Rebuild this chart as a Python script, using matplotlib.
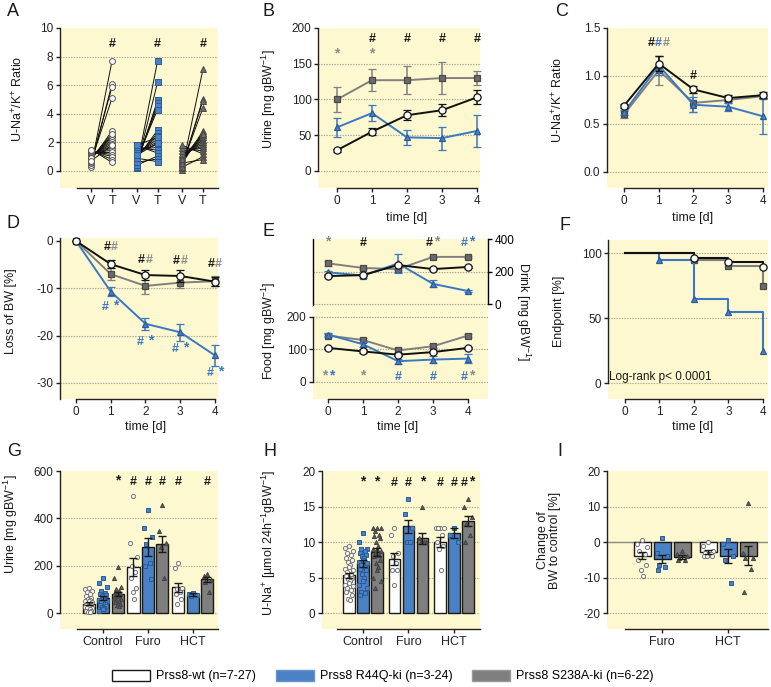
import numpy as np
import matplotlib
matplotlib.use('Agg')
import matplotlib.pyplot as plt
from matplotlib.patches import Patch

plt.rcParams['font.family'] = ['Liberation Sans', 'DejaVu Sans']
plt.rcParams['mathtext.fontset'] = 'custom'
plt.rcParams['mathtext.rm'] = 'Liberation Sans'
plt.rcParams['mathtext.it'] = 'Liberation Sans'
plt.rcParams['mathtext.default'] = 'regular'
plt.rcParams['axes.unicode_minus'] = False

# ---------------- DATA ----------------
days = [0, 1, 2, 3, 4]
a_labels = ['V', 'T', 'V', 'T', 'V', 'T']
a_wt_v = [0.30, 0.40, 0.55, 0.65, 0.75, 0.85, 0.95, 1.00, 1.05, 1.10, 1.15, 1.20, 1.25, 1.30, 1.35, 1.40, 1.45, 1.50, 0.90, 0.70]
a_wt_t = [7.70, 6.10, 5.90, 5.10, 2.80, 2.50, 2.35, 2.20, 2.05, 1.90, 1.75, 1.60, 1.45, 1.30, 1.15, 1.00, 0.80, 0.60, 2.60, 1.80]
a_r44q_v = [0.20, 0.30, 0.45, 0.55, 0.65, 0.75, 0.85, 0.95, 1.05, 1.15, 1.25, 1.35, 1.50, 1.65, 1.80, 0.40, 0.60, 0.90, 1.10, 1.80]
a_r44q_t = [7.70, 6.20, 4.95, 4.75, 4.55, 4.30, 2.85, 2.65, 2.45, 2.25, 2.05, 1.85, 1.65, 1.45, 1.25, 1.05, 0.85, 0.65, 1.95, 2.35]
a_s238a_v = [0.10, 0.20, 0.30, 0.40, 0.50, 0.60, 0.70, 0.80, 0.90, 1.00, 1.10, 1.20, 1.40, 1.60, 1.80, 0.25, 0.55, 0.85]
a_s238a_t = [7.10, 5.05, 4.90, 4.40, 2.80, 2.65, 2.50, 2.35, 2.20, 2.05, 1.90, 1.75, 1.60, 1.40, 1.20, 1.00, 0.80, 2.60]

b_wt = [29, 55, 78, 85, 103]
b_wt_err = [2, 5, 7, 8, 10]
b_r44q = [61, 81, 47, 46, 56]
b_r44q_err = [13, 11, 10, 16, 22]
b_s238a = [100, 127, 127, 130, 130]
b_s238a_err = [18, 15, 20, 22, 10]

c_wt = [0.69, 1.13, 0.86, 0.77, 0.80]
c_wt_err = [0.02, 0.08, 0.04, 0.03, 0.03]
c_r44q = [0.62, 1.11, 0.70, 0.68, 0.58]
c_r44q_err = [0.03, 0.10, 0.08, 0.04, 0.18]
c_s238a = [0.60, 1.06, 0.72, 0.75, 0.79]
c_s238a_err = [0.04, 0.15, 0.10, 0.03, 0.02]

d_wt = [0, -4.9, -7.2, -7.4, -8.6]
d_wt_err = [0, 0.8, 1.0, 1.2, 1.0]
d_r44q = [0, -10.7, -17.5, -19.3, -24.2]
d_r44q_err = [0, 1.0, 1.3, 1.8, 2.2]
d_s238a = [0, -7.0, -9.5, -8.8, -8.5]
d_s238a_err = [0, 1.2, 1.8, 1.2, 1.0]

e_drink_wt = [172, 178, 240, 215, 228]
e_drink_wt_err = [6, 6, 8, 6, 6]
e_drink_r44q = [195, 175, 250, 124, 80]
e_drink_r44q_err = [8, 12, 60, 22, 5]
e_drink_s238a = [250, 222, 215, 290, 290]
e_drink_s238a_err = [15, 8, 8, 8, 8]
e_food_wt = [105, 94, 84, 92, 105]
e_food_wt_err = [4, 4, 4, 4, 4]
e_food_r44q = [146, 116, 64, 69, 72]
e_food_r44q_err = [6, 8, 8, 12, 15]
e_food_s238a = [143, 129, 97, 110, 143]
e_food_s238a_err = [6, 6, 8, 6, 6]

f_wt = [100, 100, 96, 93, 89]
f_r44q = [100, 95, 65, 55, 25]
f_s238a = [100, 100, 95, 90, 75]

groups_g = ['Control', 'Furo', 'HCT']
g_mean_wt = [40, 195, 108]
g_mean_r44q = [62, 280, 78]
g_mean_s238a = [80, 292, 142]
g_sem_wt = [5, 38, 20]
g_sem_r44q = [8, 38, 6]
g_sem_s238a = [8, 35, 12]
g_pts_wt = [[105, 100, 95, 90, 80, 70, 65, 60, 55, 50, 50, 45, 40, 40, 35, 35, 30, 30, 25, 25, 20, 20, 15, 10, 10, 5, 5],
            [495, 295, 235, 200, 175, 150, 105, 90, 60],
            [210, 190, 105, 100, 90, 80, 60, 40]]
g_pts_r44q = [[150, 125, 110, 95, 85, 80, 75, 70, 65, 60, 55, 50, 45, 40, 35, 30, 25, 20, 15, 10],
              [435, 360, 320, 290, 210, 200, 145],
              [85, 80, 75, 70]]
g_pts_s238a = [[195, 150, 110, 100, 95, 90, 85, 80, 75, 70, 65, 60, 55, 50, 45, 40, 35, 30],
               [455, 345, 295, 280, 150],
               [165, 155, 140, 130, 90]]

h_mean_wt = [5.3, 7.6, 10.0]
h_mean_r44q = [7.0, 12.2, 11.3]
h_mean_s238a = [8.6, 10.5, 13.0]
h_sem_wt = [0.4, 0.8, 0.7]
h_sem_r44q = [0.5, 0.9, 0.7]
h_sem_s238a = [0.5, 0.8, 0.7]
h_pts_wt = [[9.5, 9.2, 8.8, 8.5, 8.2, 7.8, 7.5, 7.2, 6.8, 6.5, 6.2, 6.0, 5.8, 5.5, 5.2, 5.0, 4.8, 4.5, 4.2, 4.0, 3.8, 3.5, 3.2, 3.0, 2.5, 2.0, 1.8],
            [12, 11, 8.5, 8, 7, 6, 6, 4],
            [12, 12, 12, 12, 11, 10, 9.5, 9, 6]]
h_pts_r44q = [[11.2, 10.0, 9.0, 9.0, 8.8, 8.5, 8.2, 8.0, 7.8, 7.5, 7.2, 7.0, 6.8, 6.5, 6.2, 6.0, 5.5, 5.0, 4.5, 4.0, 3.5, 3.0, 2.8, 2.5],
              [16, 14, 12, 10, 10],
              [12, 11, 10]]
h_pts_s238a = [[12.0, 12.0, 12.0, 11.5, 11.0, 10.8, 10.5, 10.0, 9.5, 9.0, 9.0, 8.8, 8.5, 8.2, 8.0, 7.5, 7.0, 6.5, 6.0, 5.0, 4.5, 3.5],
               [15, 10.5, 10, 10, 10],
               [16, 15, 13.5, 12.5, 11, 10]]

groups_i = ['Furo', 'HCT']
i_mean_wt = [-3.8, -2.8]
i_mean_r44q = [-4.8, -4.0]
i_mean_s238a = [-4.2, -3.8]
i_sem_wt = [1.0, 0.5]
i_sem_r44q = [1.2, 2.0]
i_sem_s238a = [0.5, 2.8]
i_pts_wt = [[0.5, -0.5, -1.5, -2.5, -3.5, -5.0, -6.5, -8.0, -9.5],
            [0.0, -1.0, -2.5, -3.0, -3.5, -3.8, -4.0, -4.0]]
i_pts_r44q = [[1.0, -3.0, -4.0, -6.5, -7.0, -8.0],
              [0.5, -0.5, -4.0, -5.0, -11.5]]
i_pts_s238a = [[-2.5, -3.5, -4.0, -4.5, -5.0, -5.0],
               [11.0, -3.0, -4.5, -4.5, -7.5, -14.0]]

legend_labels = ['Prss8-wt (n=7-27)', 'Prss8 R44Q-ki (n=3-24)', 'Prss8 S238A-ki (n=6-22)']

# ---------------- STYLE ----------------
W, H = 771, 687
fig = plt.figure(figsize=(W / 100, H / 100), dpi=100)
YEL = '#fdf8d0'
BLUE = '#3a78c4'
BLUEF = '#4a80c4'
BLUEE = '#2a5c9c'
GRAYL = '#808080'
GRAYF = '#6b6b6b'
GRAYE = '#4a4a4a'
GRIDC = '#aaa898'
TXT = '#1a1a1a'
COL = {'k': '#1a1a1a', 'b': BLUE, 'g': '#8c8c8c'}
FS_TICK = 8.5
FS_LAB = 9
FS_LET = 13


def px_axes(l, t, r, b):
    return fig.add_axes([l / W, 1 - b / H, (r - l) / W, (b - t) / H])


def style(ax, xlim, ylim, yticks, ybounds, xbounds, grid):
    ax.set_facecolor(YEL)
    ax.spines['top'].set_visible(False)
    ax.spines['right'].set_visible(False)
    for s in ['left', 'bottom']:
        ax.spines[s].set_linewidth(1.0)
        ax.spines[s].set_color('#222222')
    ax.set_xlim(xlim)
    ax.set_ylim(ylim)
    ax.set_yticks(yticks)
    ax.spines['left'].set_bounds(*ybounds)
    ax.spines['bottom'].set_bounds(*xbounds)
    for g in grid:
        ax.axhline(g, color=GRIDC, lw=0.8, ls=(0, (1.2, 1.2)), zorder=0.5)
    ax.tick_params(length=3.2, width=1.0, labelsize=FS_TICK, pad=1.5, colors='#222222')


def fx(x):
    return x / W


def fy(y):
    return 1 - y / H


def ylab(x, y, s, rot=90):
    fig.text(fx(x), fy(y), s, rotation=rot, ha='center', va='center', fontsize=FS_LAB, color=TXT)


def xlab(x, y, s):
    fig.text(fx(x), fy(y), s, ha='center', va='center', fontsize=FS_LAB, color=TXT)


def letter(x, y, s):
    fig.text(fx(x), fy(y), s, ha='center', va='center', fontsize=FS_LET, color=TXT)


def mark(ax, x, y, s, cols, dx=5.4, fs=9):
    n = len(s)
    for i, (c, cc) in enumerate(zip(s, cols)):
        off = (i - (n - 1) / 2) * dx
        yo = 1.1 if c == '*' else 0
        ax.annotate(c, xy=(x, y), xytext=(off, yo), textcoords='offset points', ha='center', va='center',
                    color=COL[cc], fontsize=(fs + 1 if c == '*' else fs), fontweight='bold',
                    annotation_clip=False, zorder=6)


SER = {
    'wt': dict(color='#111111', marker='o', mfc='white', mec='#111111', ms=5.2),
    'r44q': dict(color=BLUE, marker='^', mfc=BLUEF, mec=BLUEE, ms=5.0),
    's238a': dict(color=GRAYL, marker='s', mfc=GRAYF, mec=GRAYE, ms=4.8),
}


def series(ax, x, y, e, key, z):
    st = SER[key]
    ax.errorbar(x, y, yerr=e, color=st['color'], ecolor=st['color'], marker=st['marker'], mfc=st['mfc'],
                mec=st['mec'], ms=st['ms'], mew=0.9, lw=1.4, elinewidth=1.1, capsize=2.6, capthick=1.1,
                clip_on=False, zorder=z)


# ---------------- A ----------------
ax = px_axes(60, 28, 218, 188)
a_x = [0, 1, 2.17, 3.17, 4.33, 5.33]
style(ax, (-1.48, 6.05), (-1.19, 10), [0, 2, 4, 6, 8, 10], (0, 10), (-0.67, 6.05), [0, 2, 4, 6, 8])
ax.set_xticks(a_x)
ax.set_xticklabels(a_labels)
ax.tick_params(axis='x', labelsize=FS_LAB)
a_sets = [(a_x[0:2], a_wt_v, a_wt_t, 'o', 'white', '#555555'),
          (a_x[2:4], a_r44q_v, a_r44q_t, 's', BLUEF, BLUEE),
          (a_x[4:6], a_s238a_v, a_s238a_t, '^', GRAYF, GRAYE)]
for xs, vv, tt, mk, fc, ec in a_sets:
    for v, t in zip(vv, tt):
        ax.plot(xs, [v, t], color='#111111', lw=0.7, zorder=2)
    ax.plot([xs[0]] * len(vv), vv, ls='none', marker=mk, ms=4.2, mfc=fc, mec=ec, mew=0.7, zorder=3, clip_on=False)
    ax.plot([xs[1]] * len(tt), tt, ls='none', marker=mk, ms=4.2, mfc=fc, mec=ec, mew=0.7, zorder=3, clip_on=False)
    mark(ax, xs[1], 8.9, '#', 'k')
letter(13, 11, 'A')
ylab(18, 99, r'U-Na$^{+}$/K$^{+}$ Ratio')

# ---------------- B ----------------
ax = px_axes(318, 28, 480, 188)
style(ax, (-0.543, 4.086), (-23.8, 200), [0, 50, 100, 150, 200], (0, 200), (0, 4), [0, 50, 100, 150])
ax.set_xticks(days)
series(ax, days, b_s238a, b_s238a_err, 's238a', 3)
series(ax, days, b_r44q, b_r44q_err, 'r44q', 4)
series(ax, days, b_wt, b_wt_err, 'wt', 5)
for d in [0, 1]:
    mark(ax, d, 162, '*', 'g')
for d in [1, 2, 3, 4]:
    mark(ax, d, 185, '#', 'k')
letter(268, 11, 'B')
ylab(269, 99, r'Urine [mg gBW$^{-1}$]')
xlab(407, 218, 'time [d]')

# ---------------- C ----------------
ax = px_axes(607, 28, 768, 188)
style(ax, (-0.489, 4.144), (-0.167, 1.5), [0.0, 0.5, 1.0, 1.5], (0, 1.5), (0, 4), [0, 0.5, 1.0])
ax.set_yticklabels(['0.0', '0.5', '1.0', '1.5'])
ax.set_xticks(days)
series(ax, days, c_s238a, c_s238a_err, 's238a', 3)
series(ax, days, c_r44q, c_r44q_err, 'r44q', 4)
series(ax, days, c_wt, c_wt_err, 'wt', 5)
mark(ax, 1, 1.34, '###', 'kbg')
mark(ax, 2, 1.0, '#', 'k')
letter(562, 11, 'C')
ylab(558, 100, r'U-Na$^{+}$/K$^{+}$ Ratio')
xlab(693, 218, 'time [d]')

# ---------------- D ----------------
ax = px_axes(60, 238, 218, 399)
style(ax, (-0.46, 4.086), (-33.4, 0.63), [-30, -20, -10, 0], (-33.4, 0.63), (0, 4), [-10, -20, -30])
ax.set_xticks(days)
series(ax, days, d_s238a, d_s238a_err, 's238a', 3)
series(ax, days, d_r44q, d_r44q_err, 'r44q', 4)
series(ax, days, d_wt, d_wt_err, 'wt', 5)
for d, yv in zip([1, 2, 3, 4], [-1.2, -4.0, -4.2, -4.9]):
    mark(ax, d, yv, '##', 'kg')
for d, yv in zip([1, 2, 3, 4], [-14.0, -21.3, -22.8, -28.0]):
    mark(ax, d, yv, '#*', 'bb', dx=7.5)
letter(13, 224, 'D')
ylab(11, 311, 'Loss of BW [%]')
xlab(146, 427, 'time [d]')

# ---------------- E (top: drink) ----------------
ax = px_axes(313, 239, 488, 306)
ax.set_facecolor(YEL)
ax.set_xlim(-0.43, 4.57)
ax.set_ylim(-12, 400)
ax.spines['top'].set_visible(False)
ax.spines['bottom'].set_visible(False)
ax.spines['left'].set_linewidth(1.0)
ax.spines['right'].set_linewidth(1.0)
ax.spines['right'].set_bounds(0, 400)
ax.yaxis.tick_right()
ax.set_yticks([0, 200, 400])
ax.set_xticks([])
ax.tick_params(length=3.2, width=1.0, labelsize=FS_TICK, pad=1.5)
for g in [0, 200]:
    ax.axhline(g, color=GRIDC, lw=0.8, ls=(0, (1.2, 1.2)), zorder=0.5)
series(ax, days, e_drink_s238a, e_drink_s238a_err, 's238a', 3)
series(ax, days, e_drink_r44q, e_drink_r44q_err, 'r44q', 4)
series(ax, days, e_drink_wt, e_drink_wt_err, 'wt', 5)
mark(ax, 0, 375, '*', 'g')
mark(ax, 1, 375, '#', 'k')
mark(ax, 3, 375, '#*', 'kg')
mark(ax, 4, 375, '#*', 'bb')

# ---------------- E (bottom: food) ----------------
ax = px_axes(313, 306, 488, 399)
style(ax, (-0.43, 4.57), (-52.3, 233.8), [0, 100, 200], (0, 200), (0, 4), [0, 100, 200])
ax.set_xticks(days)
series(ax, days, e_food_s238a, e_food_s238a_err, 's238a', 3)
series(ax, days, e_food_r44q, e_food_r44q_err, 'r44q', 4)
series(ax, days, e_food_wt, e_food_wt_err, 'wt', 5)
mark(ax, 0, 16, '**', 'gb')
mark(ax, 1, 16, '*', 'g')
mark(ax, 2, 16, '#', 'b')
mark(ax, 3, 16, '#', 'b')
mark(ax, 4, 16, '#*', 'bg')
letter(269, 231, 'E')
ylab(269, 331, r'Food [mg gBW$^{-1}$]')
ylab(523, 312, r'Drink [mg gBW$^{-1}$]', rot=270)
xlab(398, 427, 'time [d]')

# ---------------- F ----------------
ax = px_axes(608, 240, 768, 399)
style(ax, (-0.489, 4.144), (-12.3, 110), [0, 50, 100], (0, 110), (0, 4), [0, 50, 100])
ax.set_xticks(days)
for vals, key, z in [(f_s238a, 's238a', 3), (f_r44q, 'r44q', 4), (f_wt, 'wt', 5)]:
    st = SER[key]
    ax.step(days, vals, where='post', color=st['color'], lw=1.5, zorder=z, clip_on=False)
    mx = [d for i, d in enumerate(days) if i > 0 and vals[i] != vals[i - 1]]
    my = [vals[i] for i in range(len(days)) if i > 0 and vals[i] != vals[i - 1]]
    ax.plot(mx, my, ls='none', marker=st['marker'], mfc=st['mfc'], mec=st['mec'], ms=st['ms'], mew=0.9,
            zorder=z, clip_on=False)
ax.text(-0.45, 4.6, 'Log-rank p< 0.0001', fontsize=FS_TICK, ha='left', va='center', color=TXT)
letter(565, 226, 'F')
ylab(559, 311, 'Endpoint [%]')
xlab(693, 427, 'time [d]')


# ---------------- bar helpers ----------------
def spread(n, w):
    pattern = [0, -1, 1, -0.5, 0.5, -0.75, 0.75, -0.25, 0.25]
    return np.array([pattern[i % len(pattern)] for i in range(n)]) * w


BAR = [dict(fc='white', pm='o', pfc='white', pec='#777777'),
       dict(fc=BLUEF, pm='s', pfc=BLUEF, pec=BLUEE),
       dict(fc='#7f7f7f', pm='^', pfc='#5a5a5a', pec='#444444')]


def bars(ax, centers, offs, width, means, sems, pts, ms):
    for si in range(3):
        for gi, c in enumerate(centers):
            x = c + offs[si]
            m = means[si][gi]
            ax.bar(x, m, width, color=BAR[si]['fc'], edgecolor='#1a1a1a', lw=1.0, zorder=2)
            vals = sorted(pts[si][gi], reverse=True)
            ax.plot(x + spread(len(vals), width * 0.32), vals, ls='none', marker=BAR[si]['pm'], ms=ms,
                    mfc=BAR[si]['pfc'], mec=BAR[si]['pec'], mew=0.7, zorder=3, clip_on=False)
            ax.errorbar(x, m, yerr=sems[si][gi], color='#1a1a1a', lw=1.0, capsize=2.6, capthick=1.0,
                        zorder=4)


# ---------------- G ----------------
ax = px_axes(60, 471, 218, 629)
g_c = [0, 3.1, 6.2]
style(ax, (-2.97, 7.93), (-67.6, 600), [0, 200, 400, 600], (0, 600), (-1.8, 7.93), [0, 200, 400])
ax.set_xticks(g_c)
ax.set_xticklabels(groups_g)
ax.tick_params(axis='x', labelsize=FS_LAB)
bars(ax, g_c, [-1, 0, 1], 0.83, [g_mean_wt, g_mean_r44q, g_mean_s238a], [g_sem_wt, g_sem_r44q, g_sem_s238a],
     [g_pts_wt, g_pts_r44q, g_pts_s238a], 3.0)
mark(ax, g_c[0] + 1, 553, '*', 'k')
for x in [g_c[1] - 1, g_c[1], g_c[1] + 1, g_c[2] - 1, g_c[2] + 1]:
    mark(ax, x, 553, '#', 'k')
letter(14, 451, 'G')
ylab(11, 524, r'Urine [mg gBW$^{-1}$]')

# ---------------- H ----------------
ax = px_axes(322, 471, 480, 629)
h_c = [0, 3.25, 6.5]
style(ax, (-2.93, 8.36), (-2.25, 20), [0, 5, 10, 15, 20], (0, 20), (-1.86, 8.36), [0, 5, 10, 15])
ax.set_xticks(h_c)
ax.set_xticklabels(groups_g)
ax.tick_params(axis='x', labelsize=FS_LAB)
bars(ax, h_c, [-1, 0, 1], 0.85, [h_mean_wt, h_mean_r44q, h_mean_s238a], [h_sem_wt, h_sem_r44q, h_sem_s238a],
     [h_pts_wt, h_pts_r44q, h_pts_s238a], 3.0)
mark(ax, h_c[0], 18.3, '*', 'k')
mark(ax, h_c[0] + 1, 18.3, '*', 'k')
mark(ax, h_c[1] - 1, 18.3, '#', 'k')
mark(ax, h_c[1], 18.3, '#', 'k')
mark(ax, h_c[1] + 1, 18.3, '*', 'k')
mark(ax, h_c[2] - 1, 18.3, '#', 'k')
mark(ax, h_c[2], 18.3, '#', 'k')
mark(ax, h_c[2] + 1, 18.3, '#*', 'kk')
letter(270, 452, 'H')
ylab(269, 543, r'U-Na$^{+}$ [µmol 24h$^{-1}$gBW$^{-1}$]')

# ---------------- I ----------------
ax = px_axes(607, 471, 768, 629)
i_c = [0, 3.3]
style(ax, (-2.75, 5.3), (-24.5, 20), [-20, -10, 0, 10, 20], (-20, 20), (-1.85, 5.3), [10, -10, -20])
ax.axhline(0, color='#8a8a80', lw=1.0, zorder=1.5)
ax.set_xticks(i_c)
ax.set_xticklabels(groups_i)
ax.tick_params(axis='x', labelsize=FS_LAB)
bars(ax, i_c, [-1, 0, 1], 0.85, [i_mean_wt, i_mean_r44q, i_mean_s238a], [i_sem_wt, i_sem_r44q, i_sem_s238a],
     [i_pts_wt, i_pts_r44q, i_pts_s238a], 3.0)
letter(560, 452, 'I')
fig.text(fx(549), fy(540), 'Change of\nBW to control [%]', rotation=90, ha='center', va='center',
         fontsize=FS_LAB, color=TXT, multialignment='center', linespacing=1.1)

# ---------------- legend ----------------
handles = [Patch(facecolor='white', edgecolor='#1a1a1a', lw=1.0),
           Patch(facecolor=BLUEF, edgecolor='#6a95cc', lw=1.0),
           Patch(facecolor='#7f7f7f', edgecolor='#9a9a9a', lw=1.0)]
fig.legend(handles, legend_labels, loc='center', bbox_to_anchor=(fx(383), fy(676)), ncol=3, frameon=False,
           fontsize=FS_LAB, handlelength=3.0, handleheight=1.0, handletextpad=0.5, columnspacing=1.6)

fig.savefig('out.png', dpi=100)
